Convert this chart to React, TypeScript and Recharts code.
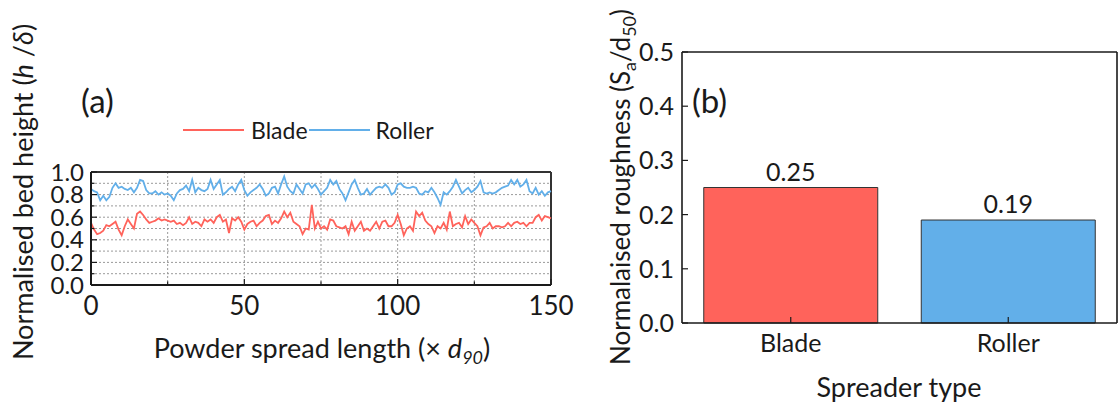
import React from 'react';
import {
  LineChart,
  Line,
  XAxis,
  YAxis,
  CartesianGrid,
  Legend,
  ReferenceLine,
  BarChart,
  Bar,
  Cell,
  LabelList,
} from 'recharts';

// (a) normalised bed height along the spread length (one value per d90)
const bladeHeight = [
  0.55, 0.49, 0.45, 0.46, 0.48, 0.53, 0.52, 0.54, 0.56, 0.49,
  0.44, 0.52, 0.58, 0.54, 0.5, 0.63, 0.65, 0.62, 0.58, 0.55,
  0.56, 0.57, 0.59, 0.57, 0.58, 0.57, 0.56, 0.57, 0.54, 0.55,
  0.53, 0.55, 0.6, 0.54, 0.56, 0.55, 0.52, 0.58, 0.56, 0.58,
  0.55, 0.6, 0.62, 0.56, 0.58, 0.46, 0.59, 0.57, 0.6, 0.56,
  0.49, 0.54, 0.56, 0.57, 0.52, 0.55, 0.57, 0.61, 0.62, 0.54,
  0.57, 0.55, 0.59, 0.65, 0.6, 0.64, 0.56, 0.54, 0.52, 0.45,
  0.5, 0.49, 0.71, 0.5, 0.56, 0.5, 0.52, 0.49, 0.58, 0.57,
  0.52, 0.51, 0.5, 0.52, 0.45, 0.56, 0.48, 0.52, 0.56, 0.48,
  0.5, 0.48, 0.52, 0.56, 0.5, 0.56, 0.57, 0.52, 0.52, 0.55,
  0.62, 0.54, 0.44, 0.5, 0.52, 0.48, 0.65, 0.61, 0.64, 0.57,
  0.54, 0.52, 0.46, 0.52, 0.5, 0.55, 0.49, 0.65, 0.52, 0.54,
  0.55, 0.51, 0.61, 0.54, 0.58, 0.55, 0.52, 0.44, 0.51, 0.52,
  0.55, 0.5, 0.52, 0.52, 0.51, 0.52, 0.55, 0.52, 0.55, 0.56,
  0.54, 0.55, 0.52, 0.55, 0.55, 0.6, 0.62, 0.57, 0.61, 0.6,
  0.59,
];

const rollerHeight = [
  0.85, 0.83, 0.82, 0.75, 0.79, 0.75, 0.78, 0.86, 0.9, 0.86,
  0.87, 0.85, 0.84, 0.86, 0.82, 0.86, 0.93, 0.92, 0.84, 0.81,
  0.81, 0.83, 0.8, 0.82, 0.8, 0.81, 0.79, 0.75, 0.81, 0.84,
  0.85, 0.88, 0.83, 0.93, 0.82, 0.86, 0.84, 0.83, 0.85, 0.93,
  0.85, 0.89, 0.93, 0.8, 0.82, 0.85, 0.87, 0.83, 0.89, 0.93,
  0.84, 0.79, 0.82, 0.84, 0.86, 0.89, 0.85, 0.79, 0.81, 0.86,
  0.87, 0.81, 0.89, 0.96, 0.87, 0.83, 0.81, 0.89, 0.85, 0.81,
  0.89, 0.9, 0.86, 0.89, 0.85, 0.8, 0.83, 0.86, 0.93, 0.89,
  0.92, 0.85, 0.81, 0.75, 0.82, 0.89, 0.93, 0.86, 0.8, 0.81,
  0.85, 0.8, 0.83, 0.86, 0.87, 0.86, 0.89, 0.86, 0.8, 0.82,
  0.89, 0.9, 0.87, 0.86, 0.86, 0.87, 0.86, 0.81, 0.8, 0.83,
  0.82, 0.86, 0.82, 0.77, 0.71, 0.82, 0.8, 0.83, 0.87, 0.93,
  0.87, 0.81, 0.84, 0.86, 0.82, 0.84, 0.87, 0.92, 0.82, 0.81,
  0.82, 0.81, 0.82, 0.84, 0.86, 0.87, 0.88, 0.93, 0.89, 0.93,
  0.87, 0.89, 0.93, 0.83, 0.81, 0.86, 0.8, 0.83, 0.79, 0.82,
  0.83,
];

const lengthTicks = [0, 25, 50, 75, 100, 125, 150];
const heightTicks = [0, 0.1, 0.2, 0.3, 0.4, 0.5, 0.6, 0.7, 0.8, 0.9, 1.0];

// (b) normalised roughness per spreader
const spreaders = ['Blade', 'Roller'];
const roughness = [0.25, 0.19];
const roughnessTicks = [0, 0.1, 0.2, 0.3, 0.4, 0.5];

const FONT = 'Lato, "Open Sans", sans-serif';
const RED = '#ff635b';
const BLUE = '#62afe9';
const INK = '#1a1a1a';

const lineData = bladeHeight.map((b, i) => ({ x: i, blade: b, roller: rollerHeight[i] }));
const barData = spreaders.map((name, i) => ({ name, value: roughness[i] }));
const barColors = [RED, BLUE];

const LeftYTick = ({ x, y, payload }: any) => {
  const major = Math.round(payload.value * 10) % 2 === 0;
  return (
    <g>
      <line x1={x} x2={x + (major ? 6 : 3.5)} y1={y} y2={y} stroke={INK} strokeWidth={1.2} />
      {major && (
        <text x={x - 7} y={y} dy="0.36em" textAnchor="end" fontSize={24} fontFamily={FONT} fill={INK}>
          {payload.value.toFixed(1)}
        </text>
      )}
    </g>
  );
};

const LeftXTick = ({ x, y, payload }: any) => {
  const major = payload.value % 50 === 0;
  return (
    <g>
      <line x1={x} x2={x} y1={y} y2={y - (major ? 6 : 3.5)} stroke={INK} strokeWidth={1.2} />
      {major && (
        <text x={x} y={y + 12} dy="0.71em" textAnchor="middle" fontSize={26} fontFamily={FONT} fill={INK}>
          {payload.value}
        </text>
      )}
    </g>
  );
};

const RightYTick = ({ x, y, payload }: any) => (
  <g>
    <line x1={x} x2={x + 6} y1={y} y2={y} stroke={INK} strokeWidth={1.2} />
    <text x={x - 8} y={y} dy="0.36em" textAnchor="end" fontSize={25} fontFamily={FONT} fill={INK}>
      {payload.value.toFixed(1)}
    </text>
  </g>
);

const RightXTick = ({ x, y, payload }: any) => (
  <g>
    <line x1={x} x2={x} y1={y} y2={y - 6} stroke={INK} strokeWidth={1.2} />
    <text x={x} y={y + 11} dy="0.71em" textAnchor="middle" fontSize={25} fontFamily={FONT} fill={INK}>
      {payload.value}
    </text>
  </g>
);

const LegendContent = () => (
  <div style={{ display: 'flex', alignItems: 'center', fontFamily: FONT, fontSize: 23, color: INK, lineHeight: '28px' }}>
    <span style={{ display: 'inline-block', width: 61, height: 2, background: RED }} />
    <span style={{ marginLeft: 7, marginRight: 1 }}>Blade</span>
    <span style={{ display: 'inline-block', width: 61, height: 2, background: BLUE }} />
    <span style={{ marginLeft: 6 }}>Roller</span>
  </div>
);

export default function App() {
  return (
    <div style={{ position: 'absolute', left: 0, top: 0, width: 1119, height: 405, background: '#fff' }}>
      <div style={{ position: 'absolute', left: 0, top: 0 }}>
        <LineChart width={600} height={405} data={lineData} margin={{ top: 144, right: 49, bottom: 60, left: 0 }}>
          <CartesianGrid stroke="#9a9a9a" strokeDasharray="2 2" strokeWidth={1} />
          <XAxis
            type="number"
            dataKey="x"
            domain={[0, 150]}
            ticks={lengthTicks}
            height={60}
            tickSize={0}
            tickMargin={0}
            tickLine={false}
            tick={<LeftXTick />}
            axisLine={{ stroke: INK, strokeWidth: 2 }}
            interval={0}
          />
          <YAxis
            type="number"
            domain={[0, 1]}
            ticks={heightTicks}
            width={91}
            tickSize={0}
            tickMargin={0}
            tickLine={false}
            tick={<LeftYTick />}
            axisLine={{ stroke: INK, strokeWidth: 2 }}
            interval={0}
          />
          <ReferenceLine y={1} stroke="#333" strokeWidth={2} />
          <ReferenceLine x={150} stroke="#333" strokeWidth={2} />
          <Legend verticalAlign="top" content={<LegendContent />} wrapperStyle={{ top: 116, left: 183, width: 'auto' }} />
          <Line type="linear" dataKey="blade" stroke={RED} strokeWidth={1.8} dot={false} isAnimationActive={false} />
          <Line type="linear" dataKey="roller" stroke={BLUE} strokeWidth={1.8} dot={false} isAnimationActive={false} />
        </LineChart>
      </div>

      <div style={{ position: 'absolute', left: 590, top: 0 }}>
        <BarChart width={529} height={405} data={barData} margin={{ top: 52, right: 0, bottom: 52, left: 0 }} barCategoryGap="10%">
          <XAxis
            dataKey="name"
            height={30}
            tickSize={0}
            tickMargin={0}
            tickLine={false}
            tick={<RightXTick />}
            axisLine={{ stroke: INK, strokeWidth: 1.6 }}
          />
          <YAxis
            type="number"
            domain={[0, 0.5]}
            ticks={roughnessTicks}
            width={92}
            tickSize={0}
            tickMargin={0}
            tickLine={false}
            tick={<RightYTick />}
            axisLine={{ stroke: INK, strokeWidth: 1.6 }}
            interval={0}
          />
          <YAxis
            yAxisId="frame"
            orientation="right"
            domain={[0, 0.5]}
            width={2}
            tick={false}
            tickLine={false}
            axisLine={{ stroke: INK, strokeWidth: 1.6 }}
          />
          <ReferenceLine y={0.5} stroke={INK} strokeWidth={1.6} />
          <Bar dataKey="value" stroke="#333" strokeWidth={1} isAnimationActive={false}>
            {barData.map((d, i) => (
              <Cell key={d.name} fill={barColors[i]} />
            ))}
            <LabelList
              dataKey="value"
              position="top"
              offset={7}
              formatter={(v: any) => Number(v).toFixed(2)}
              style={{ fontSize: 25, fontFamily: FONT, fill: INK }}
            />
          </Bar>
        </BarChart>
      </div>

      <svg width={1119} height={405} style={{ position: 'absolute', left: 0, top: 0, pointerEvents: 'none' }}>
        <g fontFamily={FONT} fill={INK}>
          <text transform="translate(33,192) rotate(-90)" textAnchor="middle" fontSize={27}>
            Normalised bed height (<tspan fontStyle="italic">h</tspan> /<tspan fontStyle="italic">δ</tspan>)
          </text>
          <text x={322} y={358} textAnchor="middle" fontSize={27}>
            Powder spread length (× <tspan fontStyle="italic">d</tspan>
            <tspan fontStyle="italic" fontSize={18} dy={6}>90</tspan>
            <tspan dy={-6}>)</tspan>
          </text>
          <text x={81} y={113} fontSize={33}>(a)</text>

          <text transform="translate(630,187) rotate(-90)" textAnchor="middle" fontSize={26}>
            Normalaised roughness (S<tspan fontSize={18} dy={6}>a</tspan>
            <tspan dy={-6}>/d</tspan>
            <tspan fontSize={18} dy={6}>50</tspan>
            <tspan dy={-6}>)</tspan>
          </text>
          <text x={899} y={397} textAnchor="middle" fontSize={27}>Spreader type</text>
          <text x={692} y={113} fontSize={33}>(b)</text>
        </g>
      </svg>
    </div>
  );
}
